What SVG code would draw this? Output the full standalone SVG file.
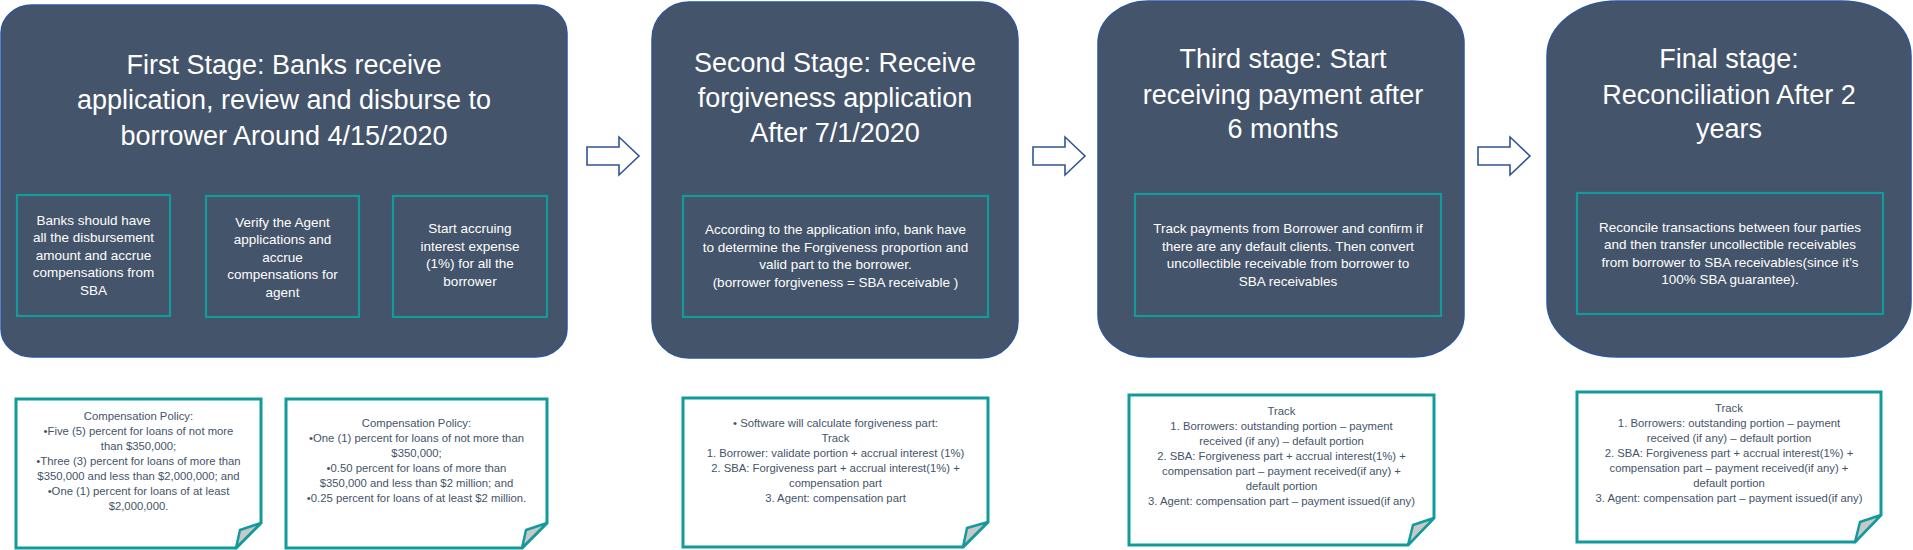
<svg xmlns="http://www.w3.org/2000/svg" width="1913" height="550" viewBox="0 0 1913 550">
<style>
.stage{fill:#44546a;stroke:#2f5597;stroke-width:1.5}
.sub{fill:none;stroke:#139a9c;stroke-width:2.2}
.note{fill:#fff;stroke:#139a9c;stroke-width:3;stroke-linejoin:miter}
.fold{fill:#c8c8c8;stroke:#139a9c;stroke-width:2.5;stroke-linejoin:round}
.arrow{fill:#fff;stroke:#2f5597;stroke-width:1.6}
.title{font-family:"Liberation Sans",Arial,sans-serif;font-size:27px;fill:#fff;text-anchor:middle}
.st{font-family:"Liberation Sans",Arial,sans-serif;font-size:13.5px;fill:#fff;text-anchor:middle}
.nt{font-family:"Liberation Sans",Arial,sans-serif;font-size:11.3px;fill:#44546a;text-anchor:middle}
</style>
<g id="connectors">
<path class="arrow" d="M587,147 H619 V137 L639,156 L619,175 V165 H587 Z"/>
<path class="arrow" d="M1033,147 H1065 V137 L1085,156 L1065,175 V165 H1033 Z"/>
<path class="arrow" d="M1478,147 H1510 V137 L1530,156 L1510,175 V165 H1478 Z"/>
</g>
<g id="stage1">
<rect class="stage" x="1" y="5" width="566" height="352" rx="31" ry="28"/>
<text class="title" x="284" y="74">First Stage: Banks receive</text>
<text class="title" x="284" y="109">application, review and disburse to</text>
<text class="title" x="284" y="145">borrower Around 4/15/2020</text>
<rect class="sub" x="17" y="195" width="153" height="121"/>
<text class="st" x="93.5" y="225">Banks should have</text>
<text class="st" x="93.5" y="242">all the disbursement</text>
<text class="st" x="93.5" y="260">amount and accrue</text>
<text class="st" x="93.5" y="277">compensations from</text>
<text class="st" x="93.5" y="295">SBA</text>
<rect class="sub" x="206" y="196" width="153" height="121"/>
<text class="st" x="282.5" y="227">Verify the Agent</text>
<text class="st" x="282.5" y="244">applications and</text>
<text class="st" x="282.5" y="262">accrue</text>
<text class="st" x="282.5" y="279">compensations for</text>
<text class="st" x="282.5" y="297">agent</text>
<rect class="sub" x="393" y="196" width="154" height="121"/>
<text class="st" x="470" y="233">Start accruing</text>
<text class="st" x="470" y="251">interest expense</text>
<text class="st" x="470" y="268">(1%) for all the</text>
<text class="st" x="470" y="286">borrower</text>
</g>
<g id="stage2">
<rect class="stage" x="652" y="2" width="366" height="356" rx="37" ry="37"/>
<text class="title" x="835" y="72">Second Stage: Receive</text>
<text class="title" x="835" y="107">forgiveness application</text>
<text class="title" x="835" y="142">After 7/1/2020</text>
<rect class="sub" x="683" y="196" width="305" height="121"/>
<text class="st" x="835.5" y="234">According to the application info, bank have</text>
<text class="st" x="835.5" y="252">to determine the Forgiveness proportion and</text>
<text class="st" x="835.5" y="269">valid part to the borrower.</text>
<text class="st" x="835.5" y="287">(borrower forgiveness = SBA receivable )</text>
</g>
<g id="stage3">
<rect class="stage" x="1098" y="1" width="366" height="356" rx="50" ry="42"/>
<text class="title" x="1283" y="68">Third stage: Start</text>
<text class="title" x="1283" y="104">receiving payment after</text>
<text class="title" x="1283" y="138">6 months</text>
<rect class="sub" x="1135" y="194" width="306" height="122"/>
<text class="st" x="1288" y="233">Track payments from Borrower and confirm if</text>
<text class="st" x="1288" y="251">there are any default clients. Then convert</text>
<text class="st" x="1288" y="268">uncollectible receivable from borrower to</text>
<text class="st" x="1288" y="286">SBA receivables</text>
</g>
<g id="stage4">
<rect class="stage" x="1547" y="1" width="364" height="356" rx="70" ry="55"/>
<text class="title" x="1729" y="68">Final stage:</text>
<text class="title" x="1729" y="104">Reconciliation After 2</text>
<text class="title" x="1729" y="138">years</text>
<rect class="sub" x="1577" y="193" width="306" height="121"/>
<text class="st" x="1730" y="232">Reconcile transactions between four parties</text>
<text class="st" x="1730" y="249">and then transfer uncollectible receivables</text>
<text class="st" x="1730" y="267">from borrower to SBA receivables(since it’s</text>
<text class="st" x="1730" y="284">100% SBA guarantee).</text>
</g>
<g id="note1">
<path class="note" d="M16,399 H261 V523 L236,548 H16 Z"/>
<path class="fold" d="M261,523 L240,530 L236,548 Z"/>
<text class="nt" x="138.5" y="420">Compensation Policy:</text>
<text class="nt" x="138.5" y="435">•Five (5) percent for loans of not more</text>
<text class="nt" x="138.5" y="450">than $350,000;</text>
<text class="nt" x="138.5" y="465">•Three (3) percent for loans of more than</text>
<text class="nt" x="138.5" y="480">$350,000 and less than $2,000,000; and</text>
<text class="nt" x="138.5" y="495">•One (1) percent for loans of at least</text>
<text class="nt" x="138.5" y="510">$2,000,000.</text>
</g>
<g id="note2">
<path class="note" d="M286,399 H547 V523 L522,548 H286 Z"/>
<path class="fold" d="M547,523 L526,530 L522,548 Z"/>
<text class="nt" x="416.5" y="427">Compensation Policy:</text>
<text class="nt" x="416.5" y="442">•One (1) percent for loans of not more than</text>
<text class="nt" x="416.5" y="457">$350,000;</text>
<text class="nt" x="416.5" y="472">•0.50 percent for loans of more than</text>
<text class="nt" x="416.5" y="487">$350,000 and less than $2 million; and</text>
<text class="nt" x="416.5" y="502">•0.25 percent for loans of at least $2 million.</text>
</g>
<g id="note3">
<path class="note" d="M683,398 H988 V522 L963,547 H683 Z"/>
<path class="fold" d="M988,522 L967,528 L963,547 Z"/>
<text class="nt" x="835.5" y="427">• Software will calculate forgiveness part:</text>
<text class="nt" x="835.5" y="442">Track</text>
<text class="nt" x="835.5" y="457">1. Borrower: validate portion + accrual interest (1%)</text>
<text class="nt" x="835.5" y="472">2. SBA: Forgiveness part + accrual interest(1%) +</text>
<text class="nt" x="835.5" y="487">compensation part</text>
<text class="nt" x="835.5" y="502">3. Agent: compensation part</text>
</g>
<g id="note4">
<path class="note" d="M1129,395 H1434 V518 L1408,545 H1129 Z"/>
<path class="fold" d="M1434,518 L1413,525 L1408,545 Z"/>
<text class="nt" x="1281.5" y="415">Track</text>
<text class="nt" x="1281.5" y="430">1. Borrowers: outstanding portion – payment</text>
<text class="nt" x="1281.5" y="445">received (if any) – default portion</text>
<text class="nt" x="1281.5" y="460">2. SBA: Forgiveness part + accrual interest(1%) +</text>
<text class="nt" x="1281.5" y="475">compensation part – payment received(if any) +</text>
<text class="nt" x="1281.5" y="490">default portion</text>
<text class="nt" x="1281.5" y="505">3. Agent: compensation part – payment issued(if any)</text>
</g>
<g id="note5">
<path class="note" d="M1577,392 H1881 V515 L1855,542 H1577 Z"/>
<path class="fold" d="M1881,515 L1860,522 L1855,542 Z"/>
<text class="nt" x="1729" y="412">Track</text>
<text class="nt" x="1729" y="427">1. Borrowers: outstanding portion – payment</text>
<text class="nt" x="1729" y="442">received (if any) – default portion</text>
<text class="nt" x="1729" y="457">2. SBA: Forgiveness part + accrual interest(1%) +</text>
<text class="nt" x="1729" y="472">compensation part – payment received(if any) +</text>
<text class="nt" x="1729" y="487">default portion</text>
<text class="nt" x="1729" y="502">3. Agent: compensation part – payment issued(if any)</text>
</g>
</svg>
